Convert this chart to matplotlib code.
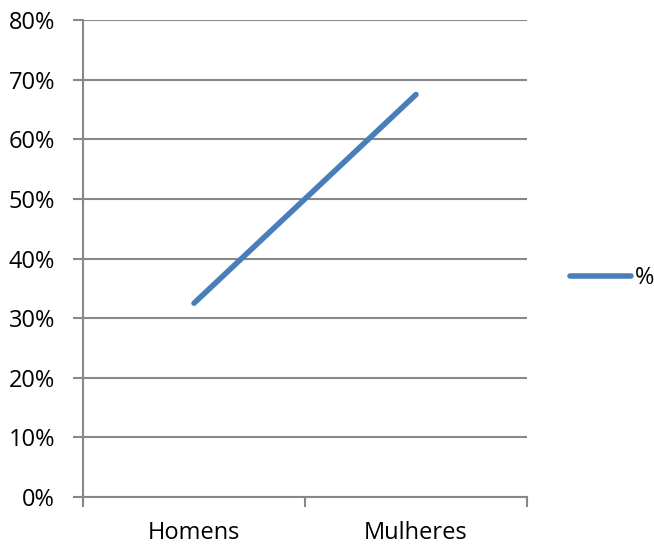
import matplotlib
matplotlib.use("Agg")
import matplotlib.pyplot as plt
from matplotlib.ticker import FixedLocator

categories = ["Homens", "Mulheres"]
values = [32.5, 67.5]
series_name = "%"
yticks = [0, 10, 20, 30, 40, 50, 60, 70, 80]
ytick_labels = [f"{v}%" for v in yticks]

plt.rcParams['font.family'] = ['Open Sans', 'DejaVu Sans']

fig = plt.figure(figsize=(6.54, 5.45), dpi=100)
ax = fig.add_axes([83/654, 1-497/545, (527-83)/654, (497-20)/545])

xpos = [i + 0.5 for i in range(len(categories))]
line, = ax.plot(xpos, values, color="#4A7EBB", lw=4.0, solid_capstyle="round", label=series_name)

ax.set_xlim(0, len(categories))
ax.set_ylim(0, 80)
ax.set_yticks(yticks)
ax.set_yticklabels(ytick_labels, fontsize=17)
ax.yaxis.grid(True, color="#888888", lw=1.5)
ax.set_axisbelow(True)

ax.set_xticks(xpos)
ax.set_xticklabels(categories, fontsize=17)
ax.tick_params(axis='x', which='major', length=0, pad=17)
ax.xaxis.set_minor_locator(FixedLocator([0, 1, 2]))
ax.tick_params(axis='x', which='minor', length=7, width=1.5, color="#888888", direction='out')
ax.tick_params(axis='y', length=7, width=1.5, color="#888888", direction='out', pad=13)

for s in ['top', 'right']:
    ax.spines[s].set_visible(False)
for s in ['left', 'bottom']:
    ax.spines[s].set_color("#888888")
    ax.spines[s].set_linewidth(1.5)

fig.legend(handles=[line], loc='center left', bbox_to_anchor=(570/654, 1-278/545),
           frameon=False, fontsize=17, handlelength=2.6, handletextpad=0.15,
           borderpad=0, borderaxespad=0)

fig.savefig("out.png", dpi=100)
